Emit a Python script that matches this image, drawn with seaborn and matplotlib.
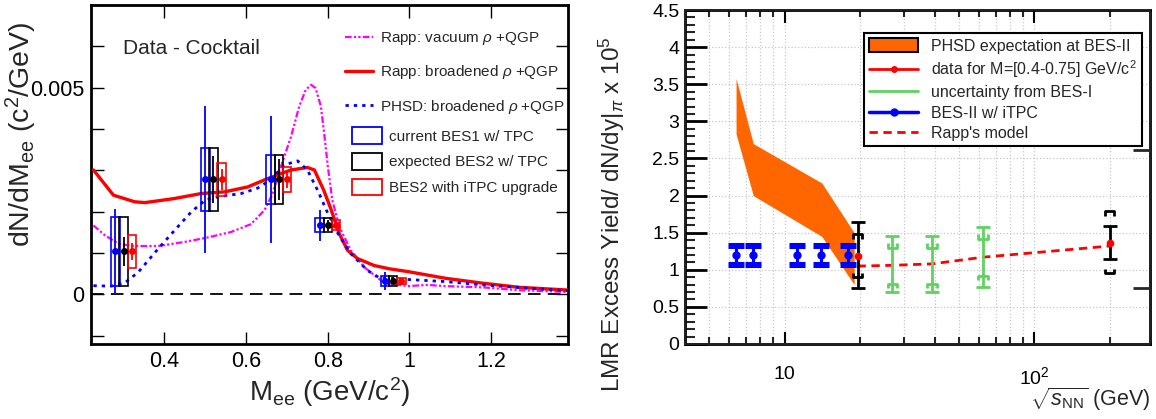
import numpy as np
import pandas as pd
import matplotlib
matplotlib.use('Agg')
import matplotlib.pyplot as plt
import seaborn as sns
from matplotlib.patches import Rectangle, Patch
from matplotlib.lines import Line2D
from matplotlib.ticker import (FixedLocator, FuncFormatter, MultipleLocator,
                               LogLocator, NullFormatter, FixedFormatter)

sns.set_theme(style='ticks')
plt.rcParams['font.family'] = ['Liberation Sans', 'DejaVu Sans']
plt.rcParams['mathtext.fontset'] = 'custom'
plt.rcParams['mathtext.rm'] = 'Liberation Sans'
plt.rcParams['mathtext.it'] = 'Liberation Sans:italic'
plt.rcParams['mathtext.bf'] = 'Liberation Sans:bold'

# ---------------- left panel data (y in units of 1e-3 c^2/GeV) ----------------
rapp_broad_m = [0.226, 0.275, 0.327, 0.352, 0.425, 0.49, 0.547, 0.604, 0.645, 0.677,
                0.71, 0.75, 0.767, 0.79, 0.807, 0.828, 0.848, 0.872, 0.913, 0.95,
                0.997, 1.088, 1.18, 1.27, 1.388]
rapp_broad_y = [3.01, 2.40, 2.24, 2.22, 2.32, 2.44, 2.48, 2.60, 2.77, 2.89,
                3.01, 3.07, 3.01, 2.52, 2.08, 1.47, 1.07, 0.87, 0.70, 0.62,
                0.55, 0.39, 0.27, 0.17, 0.105]

rapp_vac_m = [0.226, 0.254, 0.287, 0.32, 0.385, 0.45, 0.507, 0.563, 0.612, 0.645,
              0.665, 0.685, 0.71, 0.73, 0.746, 0.759, 0.77, 0.783, 0.791, 0.80,
              0.811, 0.828, 0.856, 0.889, 0.93, 0.943, 0.997, 1.043, 1.088, 1.18,
              1.27, 1.388]
rapp_vac_y = [1.67, 1.43, 1.23, 1.17, 1.17, 1.27, 1.38, 1.51, 1.70, 2.04,
              2.44, 3.09, 3.82, 4.55, 4.95, 5.07, 4.99, 4.55, 3.90, 3.09,
              2.28, 1.64, 1.07, 0.66, 0.34, 0.27, 0.20, 0.23, 0.20, 0.17,
              0.10, 0.06]

phsd_m = [0.226, 0.27, 0.303, 0.336, 0.385, 0.433, 0.466, 0.50, 0.53, 0.588,
          0.628, 0.66, 0.693, 0.726, 0.75, 0.775, 0.80, 0.825, 0.856, 0.897,
          0.93, 0.943, 0.997, 1.088, 1.18, 1.29, 1.388]
phsd_y = [0.21, 0.20, 0.28, 0.54, 1.11, 1.64, 2.00, 2.28, 2.36, 2.44,
          2.57, 2.77, 3.13, 3.23, 3.01, 2.52, 1.96, 1.47, 0.99, 0.58,
          0.38, 0.39, 0.36, 0.31, 0.23, 0.15, 0.09]

bes1_x = [0.28, 0.50, 0.66, 0.78, 0.94]
bes2_x = [0.30, 0.52, 0.68, 0.80, 0.96]
itpc_x = [0.32, 0.54, 0.70, 0.82, 0.98]
point_y = [1.04, 2.78, 2.78, 1.67, 0.33]
bes1_stat = [1.03, 1.78, 1.53, 0.38, 0.22]
bes1_sys = [0.83, 0.77, 0.59, 0.17, 0.12]
bes2_stat = [0.35, 0.57, 0.49, 0.13, 0.08]
bes2_sys = [0.83, 0.77, 0.59, 0.17, 0.12]
itpc_stat = [0.20, 0.25, 0.20, 0.07, 0.04]
itpc_sys = [0.40, 0.40, 0.30, 0.12, 0.07]

# ---------------- right panel data ----------------
band_sqrts = [6.4, 7.5, 14.1, 19.0]
band_low = [2.83, 2.00, 1.45, 0.80]
band_high = [3.58, 2.70, 2.17, 1.50]

itpc_sqrts = [6.4, 7.5, 11.2, 14.0, 18.0]
itpc_yield = [1.2, 1.2, 1.2, 1.2, 1.2]
itpc_err = [0.12, 0.12, 0.12, 0.12, 0.12]

data_sqrts = [19.6, 200.0]
data_yield = [1.19, 1.36]
data_stat_lo = [0.44, 0.22]
data_stat_hi = [0.46, 0.23]
data_sys_lo = [0.29, 0.41]
data_sys_hi = [0.29, 0.43]

besI_sqrts = [27.0, 39.0, 62.4]
besI_center = [1.08, 1.08, 1.17]
besI_stat_lo = [0.38, 0.38, 0.40]
besI_stat_hi = [0.38, 0.38, 0.40]
besI_sys_lo = [0.27, 0.27, 0.25]
besI_sys_hi = [0.22, 0.22, 0.25]

rapp_sqrts = [19.6, 27.0, 39.0, 62.4, 200.0]
rapp_yield = [1.05, 1.06, 1.08, 1.17, 1.32]

BLUE = '#0000ff'
RED = '#ff0000'
MAG = '#ff00ff'
GREEN = '#5fd35f'
ORANGE = '#ff6600'

fig = plt.figure(figsize=(11.56, 4.19), dpi=100)
axL = fig.add_axes([0.0787, 0.179, 0.4126, 0.809])
axR = fig.add_axes([0.5926, 0.179, 0.4022, 0.797])

# ================= LEFT =================
scale = 1e-3
axL.axhline(0, color='black', lw=1.3, ls=(0, (7, 4)), zorder=1)
sns.lineplot(x=rapp_vac_m, y=np.array(rapp_vac_y) * scale, ax=axL, color=MAG,
             lw=1.6, ls=(0, (3, 1, 1, 1, 1, 1)), sort=False, zorder=3)
sns.lineplot(x=rapp_broad_m, y=np.array(rapp_broad_y) * scale, ax=axL, color=RED,
             lw=2.4, sort=False, zorder=3)
sns.lineplot(x=phsd_m, y=np.array(phsd_y) * scale, ax=axL, color=BLUE,
             lw=2.0, ls=(0, (1.2, 1.8)), sort=False, zorder=3)

box_w = 0.021
for xs, st, sy, col in [(bes1_x, bes1_stat, bes1_sys, BLUE),
                        (bes2_x, bes2_stat, bes2_sys, 'black'),
                        (itpc_x, itpc_stat, itpc_sys, RED)]:
    for xi, yi, si in zip(xs, point_y, sy):
        axL.add_patch(Rectangle((xi - box_w / 2, (yi - si) * scale), box_w, 2 * si * scale,
                                fill=False, edgecolor=col, lw=1.2, zorder=4))
    axL.errorbar(xs, np.array(point_y) * scale, yerr=np.array(st) * scale, fmt='o',
                 color=col, ms=4, elinewidth=1.3, capsize=0, zorder=5)

axL.set_xlim(0.22, 1.388)
axL.set_ylim(-0.0012, 0.0070)
axL.xaxis.set_major_locator(FixedLocator([0.4, 0.6, 0.8, 1.0, 1.2]))
axL.xaxis.set_major_formatter(FixedFormatter(['0.4', '0.6', '0.8', '1', '1.2']))
axL.yaxis.set_major_locator(MultipleLocator(0.001))
axL.yaxis.set_major_formatter(FuncFormatter(
    lambda v, p: '0' if abs(v) < 1e-9 else ('0.005' if abs(v - 0.005) < 1e-9 else '')))
axL.tick_params(direction='in', length=9, width=1, top=True, right=True,
                labelsize=15.5, colors='black', pad=5)
for s in axL.spines.values():
    s.set_linewidth(2)
    s.set_color('black')
axL.set_xlabel(r'M$_{\mathrm{ee}}$ (GeV/c$^{2}$)', fontsize=20, labelpad=2)
axL.set_ylabel(r'dN/dM$_{\mathrm{ee}}$ (c$^{2}$/GeV)', fontsize=20.5)
axL.yaxis.set_label_coords(-0.108, 0.62)
axL.text(0.067, 0.873, 'Data - Cocktail', transform=axL.transAxes, fontsize=15,
         va='center', ha='left')

line_handles = [Line2D([], [], color=MAG, lw=1.6, ls=(0, (3, 1, 1, 1, 1, 1))),
                Line2D([], [], color=RED, lw=2.4),
                Line2D([], [], color=BLUE, lw=2.0, ls=(0, (1.2, 1.8)))]
line_labels = [r'Rapp: vacuum $\rho$ +QGP', r'Rapp: broadened $\rho$ +QGP',
               r'PHSD: broadened $\rho$ +QGP']
leg1 = axL.legend(line_handles, line_labels, loc='upper left', bbox_to_anchor=(0.533, 0.925),
                  frameon=False, fontsize=11, handlelength=1.8, handletextpad=0.45,
                  labelspacing=1.05, borderpad=0, borderaxespad=0)
axL.add_artist(leg1)
box_handles = [Patch(facecolor='none', edgecolor=BLUE, lw=1.3),
               Patch(facecolor='none', edgecolor='black', lw=1.3),
               Patch(facecolor='none', edgecolor=RED, lw=1.3)]
box_labels = ['current BES1 w/ TPC', 'expected BES2 w/ TPC', 'BES2 with iTPC upgrade']
axL.legend(box_handles, box_labels, loc='upper left', bbox_to_anchor=(0.547, 0.64),
           frameon=False, fontsize=11, handlelength=2.0, handleheight=1.3,
           handletextpad=0.45, labelspacing=0.6, borderpad=0, borderaxespad=0)

# ================= RIGHT =================
axR.set_xscale('log')
axR.fill_between(band_sqrts, band_low, band_high, color=ORANGE, lw=0, zorder=2)
sns.lineplot(x=rapp_sqrts, y=rapp_yield, ax=axR, color=RED, lw=2.0,
             ls=(0, (3, 2)), sort=False, zorder=3)

# BES-II w/ iTPC: I-shaped with double caps
axR.errorbar(itpc_sqrts, itpc_yield, yerr=np.array(itpc_err) * 1.2, fmt='none',
             ecolor=BLUE, elinewidth=2.2, capsize=5.5, capthick=2.2, zorder=4)
axR.errorbar(itpc_sqrts, itpc_yield, yerr=np.array(itpc_err) * 0.85, fmt='o',
             color=BLUE, ms=5, elinewidth=2.2, capsize=5.5, capthick=2.2, zorder=4)

def brackets(ax, xs, ylo, yhi, color, inward=True, f=1.045, d=0.06, lw=2.0):
    for xi, lo, hi in zip(xs, ylo, yhi):
        sgn = -1 if inward else 1
        ax.plot([xi / f, xi / f, xi * f, xi * f], [hi + sgn * d, hi, hi, hi + sgn * d],
                color=color, lw=lw, solid_capstyle='butt', zorder=4)
        ax.plot([xi / f, xi / f, xi * f, xi * f], [lo - sgn * d, lo, lo, lo - sgn * d],
                color=color, lw=lw, solid_capstyle='butt', zorder=4)

# BES-I uncertainty (green)
axR.errorbar(besI_sqrts, besI_center, yerr=[besI_stat_lo, besI_stat_hi], fmt='none',
             ecolor=GREEN, elinewidth=2.0, capsize=5, capthick=2.0, zorder=4)
brackets(axR, besI_sqrts, np.array(besI_center) - np.array(besI_sys_lo),
         np.array(besI_center) + np.array(besI_sys_hi), GREEN, inward=False)

# data points (black errors, red marker)
axR.errorbar(data_sqrts, data_yield, yerr=[data_stat_lo, data_stat_hi], fmt='none',
             ecolor='black', elinewidth=2.0, capsize=5, capthick=2.0, zorder=5)
brackets(axR, data_sqrts, np.array(data_yield) - np.array(data_sys_lo),
         np.array(data_yield) + np.array(data_sys_hi), 'black', inward=True)
axR.plot(data_sqrts, data_yield, 'o', color=RED, ms=4.5, zorder=6)

axR.set_xlim(4, 290)
axR.set_ylim(0, 4.5)
axR.yaxis.set_major_locator(MultipleLocator(0.5))
axR.yaxis.set_minor_locator(MultipleLocator(0.1))
axR.yaxis.set_major_formatter(FuncFormatter(lambda v, p: f'{v:g}'))
axR.xaxis.set_major_locator(FixedLocator([10, 100]))
axR.xaxis.set_major_formatter(FixedFormatter(['10', r'10$^{2}$']))
axR.xaxis.set_minor_locator(LogLocator(base=10, subs=np.arange(2, 10), numticks=20))
axR.xaxis.set_minor_formatter(NullFormatter())
axR.tick_params(axis='y', which='major', direction='in', length=16, width=2,
                labelsize=14, colors='black', pad=4)
axR.tick_params(axis='y', which='minor', direction='in', length=7, width=1.5)
axR.tick_params(axis='x', which='major', direction='in', length=9, width=1.5,
                labelsize=14, top=True, colors='black', pad=16)
axR.tick_params(axis='x', which='minor', direction='in', length=5, width=1.5, top=True)
axR.grid(which='major', axis='y', ls=':', color='#c8c8c8', lw=0.9)
axR.grid(which='both', axis='x', ls=':', color='#c8c8c8', lw=0.9)
for s in axR.spines.values():
    s.set_linewidth(2)
    s.set_color('black')
axR2 = axR.twinx()
axR2.set_ylim(0, 4.5)
axR2.yaxis.set_major_locator(FixedLocator([0.75, 2.62]))
axR2.yaxis.set_major_formatter(NullFormatter())
axR2.tick_params(axis='y', direction='in', length=12, width=2)
axR2.grid(False)

axR.set_ylabel(r'LMR Excess Yield/ dN/dy$|_{\pi}$ x 10$^{5}$', fontsize=17.5)
axR.yaxis.set_label_coords(-0.125, 0.39)
axR.set_xlabel(r'$\sqrt{s_{\mathrm{NN}}}$ (GeV)', fontsize=15.5, loc='right', labelpad=-2)

leg_handles = [Patch(facecolor=ORANGE, edgecolor='black', lw=1.5),
               Line2D([], [], color=RED, lw=2, marker='o', ms=4),
               Line2D([], [], color=GREEN, lw=2),
               Line2D([], [], color=BLUE, lw=2.5, marker='o', ms=5),
               Line2D([], [], color=RED, lw=2, ls=(0, (3, 2)))]
leg_labels = ['PHSD expectation at BES-II', r'data for M=[0.4-0.75] GeV/c$^{2}$',
              'uncertainty from BES-I', 'BES-II w/ iTPC', "Rapp's model"]
legR = axR.legend(leg_handles, leg_labels, loc='upper left', bbox_to_anchor=(0.385, 0.931),
                  fontsize=11.5, handlelength=3.1, handleheight=1.0, handletextpad=0.8,
                  labelspacing=0.3, borderpad=0.3, borderaxespad=0, fancybox=False,
                  framealpha=1, edgecolor='black')
legR.get_frame().set_linewidth(1.5)

fig.savefig('out.png', dpi=100)
